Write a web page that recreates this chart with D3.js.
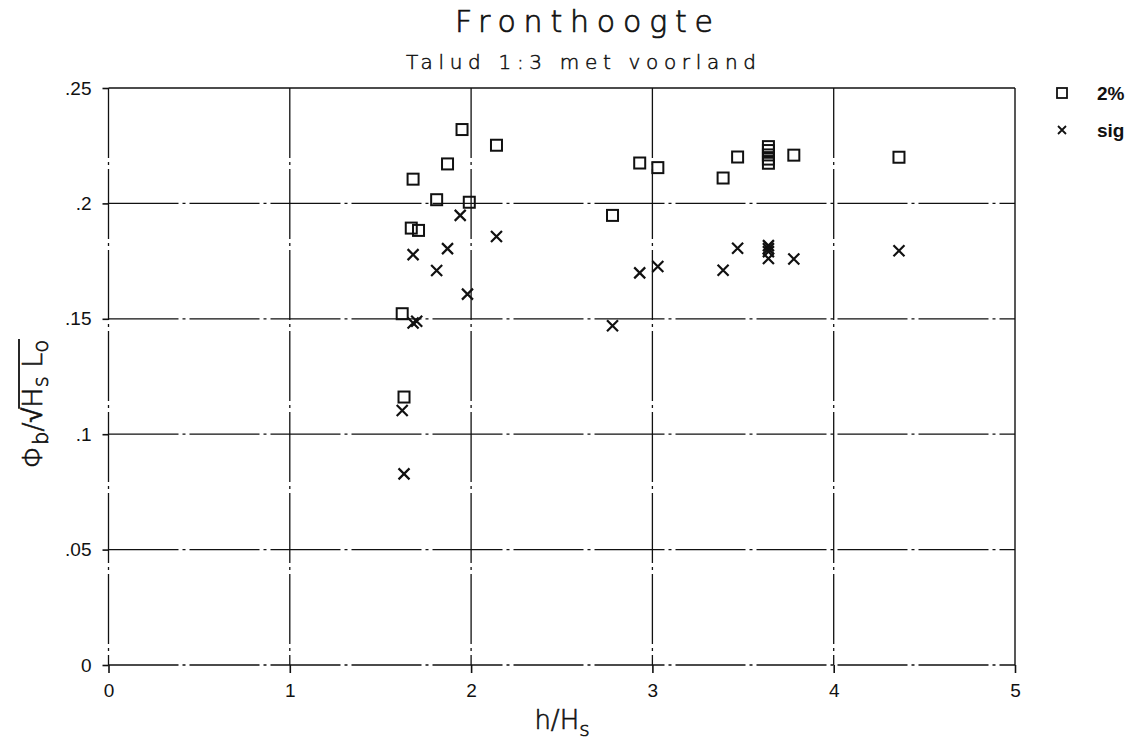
<!DOCTYPE html>
<html><head><meta charset="utf-8">
<script src="https://cdn.jsdelivr.net/npm/d3@7/dist/d3.min.js"></script>
<style>
html,body{margin:0;padding:0;background:#fff;}
svg{display:block;}
text{font-family:"DejaVu Sans","Liberation Sans",sans-serif;fill:#111;}
</style></head>
<body>
<svg id="c" width="1146" height="751"></svg>
<script>
// ---- data ----
const xTicks = [0, 1, 2, 3, 4, 5];
const xTickLabels = ["0", "1", "2", "3", "4", "5"];
const yTicks = [0, 0.05, 0.1, 0.15, 0.2, 0.25];
const yTickLabels = ["0", ".05", ".1", ".15", ".2", ".25"];
const seriesNames = ["2%", "sig"];
// 2% (squares)
const x2pct = [1.95, 2.14, 1.87, 1.68, 1.81, 1.99, 1.67, 1.71, 1.62, 1.63, 2.78, 2.93, 3.03, 3.39, 3.47, 3.64, 3.64, 3.64, 3.64, 3.64, 3.78, 4.36];
const y2pct = [0.232, 0.2252, 0.2171, 0.2105, 0.2016, 0.2005, 0.1893, 0.1883, 0.1522, 0.1161, 0.1948, 0.2175, 0.2155, 0.211, 0.2201, 0.2246, 0.2229, 0.2210, 0.2192, 0.2174, 0.2209, 0.2200];
// sig (crosses)
const xSig = [1.94, 2.14, 1.87, 1.68, 1.81, 1.98, 1.68, 1.70, 1.62, 1.63, 2.78, 2.93, 3.03, 3.39, 3.47, 3.64, 3.64, 3.64, 3.64, 3.78, 4.36];
const ySig = [0.1948, 0.1857, 0.1804, 0.1778, 0.1709, 0.1607, 0.1482, 0.1489, 0.1103, 0.0828, 0.147, 0.1699, 0.1727, 0.171, 0.1806, 0.1817, 0.1804, 0.1791, 0.1761, 0.1759, 0.1795];

const svg = d3.select("#c");
const x = d3.scaleLinear().domain([0, 5]).range([108.5, 1015]);
const y = d3.scaleLinear().domain([0, 0.25]).range([665, 88]);
const ink = "#111";
const dash = "70,4,3,4";
const tickFont = '"Liberation Sans","DejaVu Sans",sans-serif';

// grid lines (dash-dot)
svg.append("g").selectAll("line").data(yTicks.filter(v => v < 0.25)).join("line")
  .attr("x1", x(0)).attr("x2", x(5)).attr("y1", d => y(d)).attr("y2", d => y(d))
  .attr("stroke", ink).attr("stroke-width", 1.3).attr("stroke-dasharray", dash);
svg.append("g").selectAll("line").data(xTicks.filter(v => v < 5)).join("line")
  .attr("x1", d => x(d)).attr("x2", d => x(d)).attr("y1", y(0.25)).attr("y2", y(0))
  .attr("stroke", ink).attr("stroke-width", 1.3).attr("stroke-dasharray", dash);
// frame top and right (solid)
svg.append("line").attr("x1", x(0)).attr("x2", x(5)).attr("y1", y(0.25)).attr("y2", y(0.25))
  .attr("stroke", ink).attr("stroke-width", 1.4);
svg.append("line").attr("x1", x(5)).attr("x2", x(5)).attr("y1", y(0.25)).attr("y2", y(0))
  .attr("stroke", ink).attr("stroke-width", 1.4);

// axes via d3
const xAxis = d3.axisBottom(x).tickValues(xTicks).tickFormat((d, i) => xTickLabels[i]).tickSize(8).tickPadding(11);
const gx = svg.append("g").attr("transform", `translate(0,${y(0)})`).call(xAxis);
gx.select(".domain").remove();
gx.selectAll(".tick line").attr("stroke", ink).attr("stroke-width", 1.6);
gx.selectAll(".tick text").attr("font-size", 19).attr("fill", ink).style("font-family", tickFont);

const yAxis = d3.axisLeft(y).tickValues(yTicks).tickFormat((d, i) => yTickLabels[i]).tickSize(6).tickPadding(11);
const gy = svg.append("g").attr("transform", `translate(${x(0)},0)`).call(yAxis);
gy.select(".domain").remove();
gy.selectAll(".tick line").attr("stroke", ink).attr("stroke-width", 1.6);
gy.selectAll(".tick text").attr("font-size", 19).attr("fill", ink).style("font-family", tickFont);

// markers
const sq = 11;
svg.append("g").selectAll("rect").data(x2pct.map((v, i) => [v, y2pct[i]])).join("rect")
  .attr("x", d => x(d[0]) - sq / 2).attr("y", d => y(d[1]) - sq / 2)
  .attr("width", sq).attr("height", sq)
  .attr("fill", "none").attr("stroke", ink).attr("stroke-width", 2);
const cr = 5.5;
svg.append("g").selectAll("path").data(xSig.map((v, i) => [v, ySig[i]])).join("path")
  .attr("d", d => { const cx = x(d[0]), cy = y(d[1]);
    return `M${cx - cr},${cy - cr}L${cx + cr},${cy + cr}M${cx - cr},${cy + cr}L${cx + cr},${cy - cr}`; })
  .attr("fill", "none").attr("stroke", ink).attr("stroke-width", 2.2);

// legend
const lg = svg.append("g");
lg.append("rect").attr("x", 1062 - 5).attr("y", 93 - 5).attr("width", 10).attr("height", 10)
  .attr("fill", "none").attr("stroke", ink).attr("stroke-width", 1.8);
lg.append("path").attr("d", `M1058,126L1066,134M1058,134L1066,126`).attr("stroke", ink).attr("stroke-width", 1.8);
lg.append("text").attr("x", 1097).attr("y", 100).attr("font-size", 19).attr("font-weight", "bold")
  .style("font-family", tickFont).text(seriesNames[0]);
lg.append("text").attr("x", 1097).attr("y", 137).attr("font-size", 19).attr("font-weight", "bold")
  .style("font-family", tickFont).text(seriesNames[1]);

// titles
svg.append("text").attr("x", 584).attr("y", 32).attr("text-anchor", "middle")
  .attr("font-size", 30).attr("font-weight", 200).attr("stroke", ink).attr("stroke-width", 0.7)
  .attr("textLength", 258).attr("lengthAdjust", "spacing").text("Fronthoogte");
svg.append("text").attr("x", 581).attr("y", 69).attr("text-anchor", "middle")
  .attr("font-size", 20).attr("font-weight", 200).attr("stroke", ink).attr("stroke-width", 0.5)
  .attr("textLength", 350).attr("lengthAdjust", "spacing").text("Talud 1:3 met voorland");

// x label
const xl = svg.append("text").attr("x", 562).attr("y", 729).attr("text-anchor", "middle")
  .attr("font-size", 26).attr("font-weight", 200).attr("stroke", ink).attr("stroke-width", 0.6);
xl.append("tspan").text("h/H");
xl.append("tspan").attr("dy", 7).attr("font-size", 20).text("s");

// y label
const yg = svg.append("g").attr("transform", "translate(42,404) rotate(-90)");
const yl = yg.append("text").attr("x", 0).attr("y", 0).attr("text-anchor", "middle")
  .attr("font-size", 27).attr("font-weight", 200).attr("stroke", ink).attr("stroke-width", 0.6);
yl.append("tspan").text("Φ");
yl.append("tspan").attr("dy", 6).attr("font-size", 21).text("b");
yl.append("tspan").attr("dy", -6).text("/\u221A");
yl.append("tspan").text("H");
yl.append("tspan").attr("dy", 6).attr("font-size", 21).text("s");
yl.append("tspan").attr("dy", -6).text(" L");
yl.append("tspan").attr("dy", 6).attr("font-size", 21).text("o");
// overline of radical
const node = yl.node();
const txt = node.textContent;
const ri = txt.indexOf("\u221A");
const n = node.getNumberOfChars();
const e1 = node.getExtentOfChar(ri), e2 = node.getExtentOfChar(n - 1);
yg.append("line").attr("x1", e1.x + e1.width - 1).attr("x2", e2.x + e2.width + 1)
  .attr("y1", e1.y + 2).attr("y2", e1.y + 2).attr("stroke", ink).attr("stroke-width", 1.8);
</script>
</body></html>
